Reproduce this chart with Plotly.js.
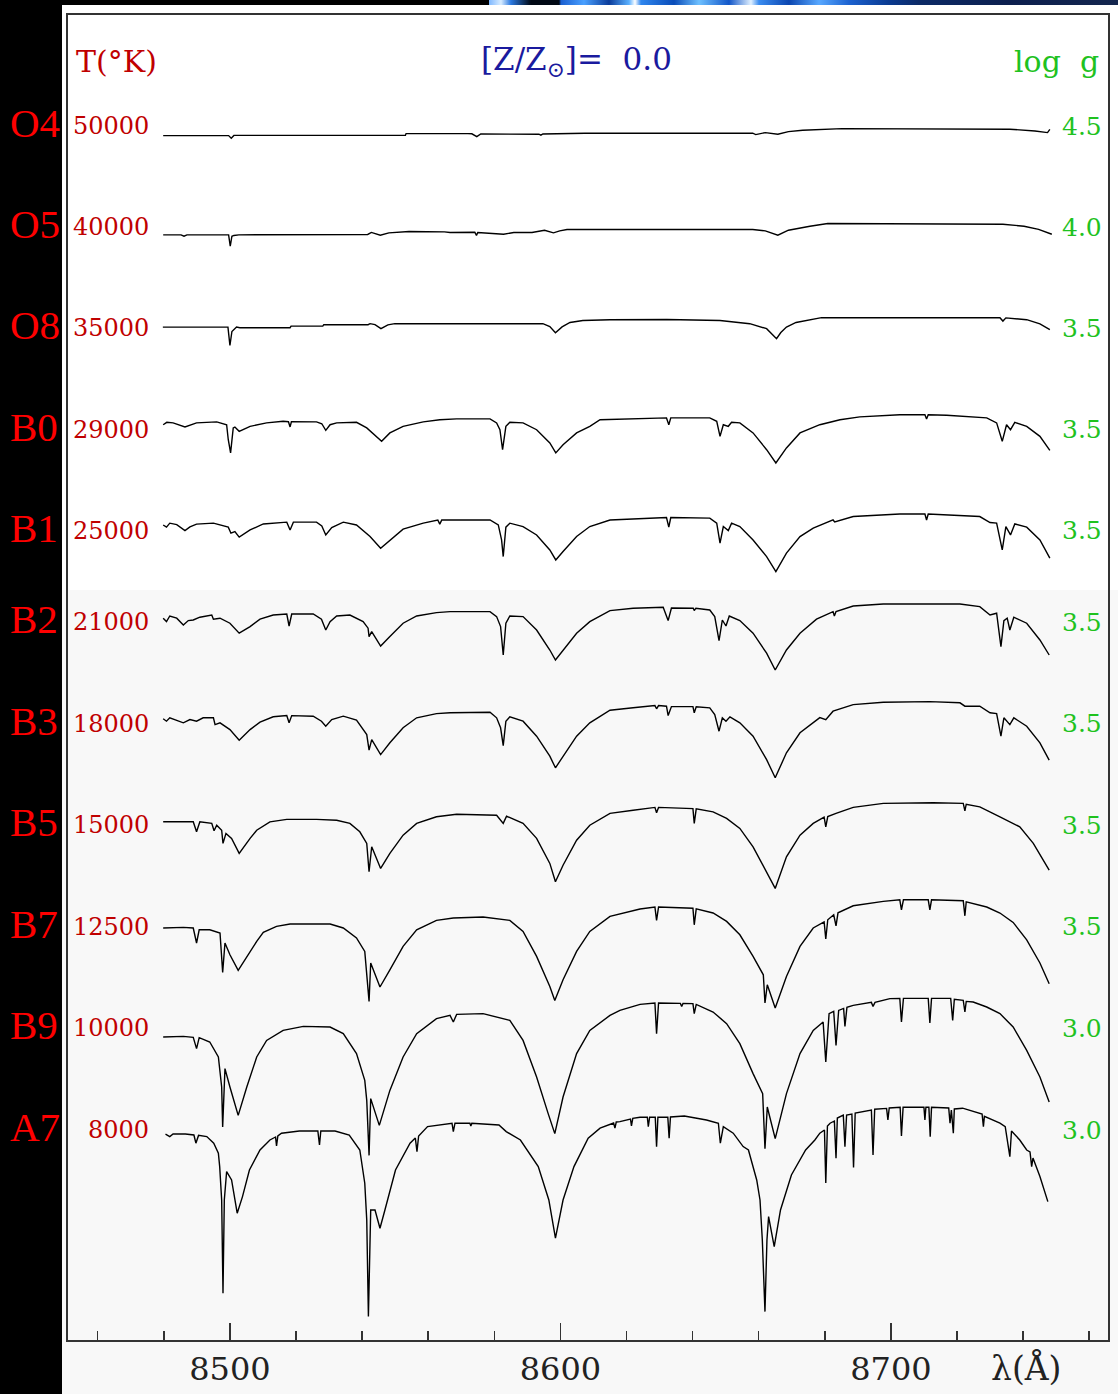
<!DOCTYPE html>
<html>
<head>
<meta charset="utf-8">
<script src="https://cdn.plot.ly/plotly-3.0.1.min.js"></script>
<style>
  html, body { margin: 0; padding: 0; background: #000; }
  #wrap { position: relative; width: 1118px; height: 1394px; overflow: hidden; background: #000; }
  #sheet { position: absolute; left: 62px; top: 5px; width: 1056px; height: 1389px;
           background: linear-gradient(to bottom, #ffffff 0px, #ffffff 585px, #f8f8f8 585px, #f8f8f8 100%); }
  #strip { position: absolute; left: 489px; top: 0; width: 629px; height: 5px;
           background: linear-gradient(to right,
             #7fb8ff 0px, #d8ecff 12px, #2a78e0 22px, #000814 42px, #000814 70px,
             #1a5fd0 72px, #4aa0ff 95px, #0b3c9a 120px, #5ab0ff 140px, #ffffff 146px, #2f86ee 152px,
             #0a4cb8 185px, #6ec0ff 210px, #1256c8 240px, #e0f0ff 262px, #3a8cf0 270px,
             #0b46b0 300px, #58a8ff 330px, #1c62d0 360px, #0a3a90 400px, #0c2a66 430px,
             #0c1f4e 520px, #14264e 629px); }
  #chart { position: absolute; left: 0; top: 0; width: 1118px; height: 1394px; }
</style>
</head>
<body>
<div id="wrap">
  <div id="sheet"></div>
  <div id="strip"></div>
  <div id="chart"></div>
</div>
<script>
// Spectral types, effective temperatures and surface gravities, top to bottom
const SPECTRAL_TYPES = ['O4', 'O5', 'O8', 'B0', 'B1', 'B2', 'B3', 'B5', 'B7', 'B9', 'A7'];
const TEFF_LABELS = ['50000', '40000', '35000', '29000', '25000', '21000', '18000', '15000', '12500', '10000', '8000'];
const LOGG_LABELS = ['4.5', '4.0', '3.5', '3.5', '3.5', '3.5', '3.5', '3.5', '3.5', '3.0', '3.0'];
const X_TICK_LABELS = ['8500', '8600', '8700'];

// Normalised synthetic spectra, [wavelength (Å), relative flux]
const SPEC_O4 = [[8479.8,0.952],[8499.6,0.952],[8500.4,0.939],[8501.2,0.953],[8553.1,0.954],[8553.3,0.962],[8572.0,0.962],[8573.2,0.961],[8574.7,0.947],[8575.9,0.960],[8593.5,0.959],[8594.1,0.954],[8594.7,0.960],[8599.8,0.963],[8607.4,0.964],[8658.2,0.964],[8659.1,0.957],[8662.0,0.967],[8663.4,0.963],[8665.8,0.959],[8669.0,0.972],[8673.3,0.979],[8685.2,0.987],[8736.0,0.984],[8743.6,0.975],[8747.4,0.967],[8748.1,0.983]];

const SPEC_O5 = [[8479.8,0.962],[8485.2,0.962],[8486.1,0.955],[8487.0,0.962],[8499.6,0.962],[8500.1,0.905],[8500.6,0.955],[8501.2,0.959],[8502.7,0.962],[8541.7,0.964],[8542.8,0.974],[8545.5,0.960],[8548.1,0.972],[8554.2,0.979],[8564.9,0.977],[8566.6,0.974],[8574.1,0.975],[8574.6,0.959],[8575.0,0.974],[8582.8,0.965],[8585.9,0.974],[8591.4,0.974],[8595.2,0.985],[8597.9,0.972],[8599.8,0.982],[8602.0,0.989],[8658.2,0.989],[8662.0,0.982],[8665.8,0.960],[8669.0,0.985],[8675.5,1.005],[8680.9,1.019],[8733.9,1.015],[8740.3,1.005],[8744.7,0.989],[8748.7,0.965]];

const SPEC_O8 = [[8479.7,1.007],[8499.4,1.007],[8500.0,0.915],[8500.6,0.985],[8502.0,1.007],[8503.0,1.004],[8518.2,1.004],[8518.5,1.012],[8528.1,1.012],[8528.4,1.019],[8541.8,1.019],[8542.4,1.024],[8543.9,1.019],[8545.7,0.999],[8547.8,1.018],[8549.9,1.024],[8594.7,1.024],[8596.8,1.010],[8598.5,0.979],[8600.5,1.008],[8602.9,1.030],[8606.8,1.040],[8615.0,1.044],[8632.2,1.045],[8648.3,1.040],[8657.3,1.024],[8662.4,0.999],[8664.0,0.975],[8665.4,0.949],[8666.7,0.980],[8668.4,1.007],[8671.3,1.030],[8674.5,1.040],[8679.0,1.054],[8733.0,1.054],[8733.9,1.037],[8734.8,1.053],[8741.1,1.044],[8745.1,1.023],[8748.1,0.994]];

const SPEC_B0 = [[8479.8,1.025],[8480.9,1.037],[8482.8,1.034],[8486.4,1.014],[8489.9,1.034],[8496.0,1.039],[8499.0,1.025],[8499.5,0.950],[8500.2,0.884],[8500.6,0.950],[8501.0,1.009],[8501.5,1.013],[8502.8,0.992],[8506.1,1.017],[8511.1,1.034],[8516.1,1.042],[8517.7,1.040],[8518.2,1.014],[8518.6,1.040],[8526.2,1.039],[8527.8,1.030],[8529.0,0.997],[8530.3,1.025],[8532.3,1.034],[8538.3,1.037],[8541.4,1.009],[8543.6,0.975],[8545.9,0.942],[8548.4,0.984],[8552.4,1.017],[8558.5,1.039],[8563.5,1.050],[8568.6,1.054],[8578.7,1.054],[8580.7,1.034],[8581.7,1.000],[8582.5,0.900],[8583.5,1.017],[8584.7,1.037],[8588.7,1.034],[8592.8,1.000],[8596.8,0.934],[8598.6,0.884],[8600.8,0.925],[8604.9,0.984],[8608.9,1.017],[8612.0,1.050],[8632.1,1.059],[8632.8,1.025],[8633.4,1.059],[8645.2,1.059],[8647.3,1.042],[8648.3,0.967],[8649.3,1.025],[8650.8,1.017],[8651.8,1.037],[8654.3,1.034],[8658.3,0.984],[8662.4,0.900],[8665.2,0.834],[8668.4,0.909],[8672.5,0.984],[8678.5,1.025],[8684.6,1.050],[8690.6,1.064],[8702.7,1.075],[8710.3,1.075],[8710.8,1.054],[8711.3,1.075],[8716.9,1.072],[8729.0,1.059],[8732.0,1.034],[8733.7,0.942],[8735.0,1.025],[8736.2,1.000],[8737.5,1.037],[8741.1,1.017],[8745.1,0.967],[8748.1,0.897]];

const SPEC_B1 = [[8479.8,1.030],[8480.8,1.019],[8481.8,1.039],[8483.9,1.032],[8486.4,1.002],[8487.9,1.020],[8489.9,1.034],[8495.0,1.039],[8499.5,1.019],[8500.3,0.989],[8501.5,0.997],[8502.8,0.969],[8506.1,1.005],[8510.1,1.035],[8517.2,1.044],[8518.2,1.005],[8519.2,1.044],[8526.2,1.044],[8527.8,1.025],[8529.0,0.980],[8530.8,1.017],[8534.3,1.044],[8538.3,1.030],[8542.4,0.972],[8545.6,0.914],[8548.4,0.955],[8552.4,1.009],[8558.5,1.039],[8562.9,1.055],[8563.5,1.034],[8564.1,1.055],[8578.7,1.055],[8581.2,1.030],[8582.2,0.955],[8582.7,0.872],[8583.5,1.019],[8584.7,1.039],[8588.7,1.022],[8592.8,0.980],[8596.8,0.905],[8598.6,0.855],[8600.8,0.897],[8604.9,0.972],[8608.9,1.022],[8615.0,1.055],[8632.1,1.067],[8632.8,1.019],[8633.4,1.067],[8645.2,1.064],[8647.3,1.039],[8648.3,0.939],[8649.3,1.022],[8650.8,1.002],[8651.8,1.039],[8654.3,1.022],[8658.3,0.955],[8662.4,0.872],[8665.2,0.797],[8668.4,0.889],[8672.5,0.972],[8676.5,1.014],[8682.5,1.055],[8683.0,1.045],[8688.6,1.072],[8702.7,1.085],[8710.3,1.085],[8710.8,1.055],[8711.3,1.085],[8716.9,1.080],[8726.9,1.072],[8730.0,1.042],[8732.0,1.039],[8733.7,0.905],[8734.8,1.022],[8736.2,0.980],[8737.5,1.035],[8741.1,1.019],[8745.1,0.955],[8748.1,0.864]];

const SPEC_B2 = [[8479.8,1.019],[8480.8,1.002],[8481.8,1.030],[8483.9,1.019],[8485.9,0.985],[8487.4,1.007],[8488.9,1.010],[8490.9,1.024],[8494.5,1.035],[8495.0,1.014],[8497.0,1.019],[8500.0,0.994],[8502.8,0.944],[8506.1,0.977],[8509.1,1.014],[8513.1,1.035],[8517.2,1.040],[8517.9,0.980],[8518.7,1.040],[8525.2,1.040],[8527.7,1.014],[8529.0,0.960],[8530.3,1.002],[8532.3,1.030],[8536.3,1.035],[8540.3,1.002],[8541.8,0.969],[8542.1,0.927],[8542.9,0.952],[8545.6,0.880],[8548.4,0.927],[8552.4,0.994],[8556.5,1.030],[8562.5,1.047],[8566.6,1.052],[8578.7,1.052],[8580.7,1.027],[8581.9,0.977],[8582.7,0.835],[8583.5,0.994],[8584.7,1.030],[8588.7,1.027],[8592.8,0.960],[8596.8,0.860],[8598.5,0.810],[8600.8,0.860],[8604.9,0.944],[8608.9,1.002],[8615.0,1.057],[8622.0,1.069],[8631.1,1.074],[8632.6,1.007],[8633.6,1.070],[8640.2,1.069],[8640.5,1.057],[8641.0,1.069],[8645.2,1.060],[8646.7,1.027],[8648.0,0.907],[8649.0,1.010],[8650.1,0.980],[8651.1,1.030],[8654.3,1.007],[8658.3,0.944],[8662.4,0.844],[8665.0,0.760],[8668.4,0.860],[8672.5,0.944],[8677.5,1.014],[8682.5,1.052],[8682.9,1.030],[8683.4,1.052],[8688.6,1.080],[8697.7,1.090],[8720.9,1.090],[8726.9,1.077],[8730.0,1.035],[8732.0,1.044],[8733.3,0.877],[8734.2,1.007],[8735.2,1.019],[8736.0,0.960],[8737.2,1.024],[8741.1,0.994],[8745.1,0.910],[8747.9,0.835]];

const SPEC_B3 = [[8479.8,1.024],[8480.8,1.012],[8481.8,1.029],[8485.9,1.004],[8487.9,1.020],[8489.9,1.012],[8491.9,1.029],[8495.0,1.029],[8495.5,0.995],[8497.0,1.004],[8500.0,0.970],[8502.8,0.917],[8506.1,0.970],[8509.1,1.007],[8513.1,1.034],[8517.2,1.040],[8517.9,1.004],[8518.7,1.040],[8525.2,1.037],[8527.7,1.012],[8529.0,0.987],[8530.8,1.020],[8534.3,1.037],[8538.3,1.017],[8541.4,0.945],[8542.1,0.867],[8542.9,0.920],[8545.6,0.845],[8548.4,0.904],[8552.4,0.979],[8556.5,1.029],[8562.5,1.050],[8566.6,1.054],[8578.7,1.057],[8580.7,1.029],[8581.9,0.979],[8582.7,0.890],[8583.5,1.012],[8584.7,1.034],[8588.7,1.012],[8592.8,0.937],[8596.8,0.837],[8598.5,0.779],[8600.8,0.837],[8604.9,0.937],[8608.9,1.004],[8615.0,1.067],[8622.0,1.079],[8628.6,1.090],[8629.1,1.074],[8629.7,1.090],[8632.1,1.087],[8632.6,1.040],[8633.6,1.085],[8640.1,1.085],[8640.5,1.054],[8641.1,1.084],[8645.2,1.079],[8646.7,1.045],[8648.0,0.962],[8649.0,1.029],[8650.1,1.012],[8651.3,1.034],[8654.3,1.004],[8658.3,0.937],[8662.4,0.820],[8665.0,0.729],[8668.4,0.854],[8672.5,0.954],[8678.5,1.030],[8680.3,1.020],[8682.5,1.062],[8688.6,1.095],[8697.7,1.107],[8711.8,1.110],[8720.9,1.104],[8722.4,1.087],[8726.9,1.087],[8730.0,1.054],[8732.0,1.050],[8733.3,0.937],[8734.2,1.029],[8736.0,0.995],[8737.2,1.029],[8741.1,0.987],[8745.1,0.904],[8747.9,0.817]];

const SPEC_B5 = [[8479.8,1.017],[8488.9,1.017],[8489.9,0.967],[8490.9,1.017],[8494.5,1.009],[8495.2,0.972],[8496.0,1.000],[8497.5,0.975],[8497.9,0.909],[8498.8,0.959],[8500.5,0.934],[8502.8,0.859],[8506.1,0.934],[8508.1,0.975],[8512.1,1.017],[8517.2,1.029],[8526.2,1.029],[8532.3,1.025],[8536.3,1.009],[8539.3,0.967],[8541.4,0.909],[8542.1,0.767],[8542.9,0.892],[8545.6,0.784],[8548.4,0.859],[8552.4,0.950],[8556.5,1.009],[8562.5,1.042],[8568.6,1.055],[8580.7,1.050],[8582.7,1.009],[8583.7,1.045],[8588.7,1.009],[8592.8,0.934],[8596.8,0.809],[8598.5,0.717],[8600.8,0.800],[8604.9,0.925],[8608.9,1.000],[8615.0,1.059],[8622.0,1.075],[8628.6,1.089],[8629.1,1.062],[8629.7,1.089],[8640.1,1.083],[8640.5,1.009],[8641.1,1.082],[8646.2,1.067],[8650.3,1.034],[8654.3,0.984],[8658.3,0.892],[8662.4,0.767],[8665.0,0.684],[8668.4,0.842],[8672.5,0.950],[8676.5,1.009],[8679.8,1.040],[8680.3,0.992],[8680.9,1.043],[8683.4,1.059],[8688.6,1.089],[8697.7,1.109],[8712.8,1.112],[8721.9,1.109],[8722.4,1.072],[8722.8,1.105],[8726.9,1.092],[8733.0,1.042],[8739.0,0.992],[8743.1,0.909],[8747.9,0.775]];

const SPEC_B7 = [[8479.8,0.994],[8485.9,0.997],[8488.9,0.994],[8489.9,0.919],[8490.7,0.985],[8493.9,0.985],[8497.0,0.969],[8497.8,0.772],[8498.5,0.919],[8500.0,0.860],[8502.5,0.782],[8505.1,0.852],[8508.1,0.927],[8510.1,0.972],[8514.1,1.002],[8518.2,1.014],[8530.3,1.014],[8534.3,0.994],[8538.3,0.944],[8540.8,0.877],[8542.1,0.627],[8542.6,0.819],[8545.4,0.699],[8548.4,0.785],[8552.4,0.902],[8556.5,0.985],[8562.5,1.032],[8567.6,1.044],[8576.6,1.049],[8584.7,1.032],[8588.7,0.977],[8592.8,0.852],[8596.8,0.702],[8598.3,0.632],[8600.8,0.735],[8604.9,0.877],[8608.9,0.977],[8615.0,1.052],[8624.1,1.089],[8628.6,1.099],[8629.1,1.032],[8629.7,1.099],[8640.1,1.093],[8640.5,1.010],[8641.1,1.090],[8646.2,1.069],[8650.3,1.027],[8654.3,0.960],[8658.3,0.852],[8661.4,0.760],[8661.9,0.619],[8662.6,0.710],[8665.0,0.594],[8668.4,0.752],[8672.5,0.902],[8676.5,0.994],[8679.8,1.025],[8680.3,0.939],[8680.9,1.035],[8682.7,1.060],[8683.4,1.005],[8684.0,1.070],[8688.6,1.105],[8697.7,1.127],[8702.7,1.135],[8703.2,1.085],[8703.8,1.135],[8711.3,1.135],[8711.8,1.085],[8712.3,1.135],[8721.9,1.130],[8722.4,1.055],[8722.8,1.125],[8729.0,1.099],[8733.0,1.069],[8737.0,1.022],[8741.1,0.935],[8745.1,0.819],[8747.9,0.715]];

const SPEC_B9 = [[8479.8,0.957],[8485.9,0.960],[8488.9,0.955],[8489.9,0.899],[8490.7,0.954],[8493.9,0.932],[8496.5,0.857],[8497.5,0.707],[8497.8,0.507],[8498.5,0.799],[8500.0,0.707],[8502.5,0.565],[8505.1,0.707],[8508.1,0.857],[8511.1,0.940],[8516.1,0.990],[8522.2,1.010],[8530.3,1.007],[8534.3,0.974],[8538.3,0.874],[8540.8,0.740],[8541.4,0.640],[8542.1,0.365],[8542.6,0.649],[8545.2,0.515],[8548.4,0.690],[8552.4,0.857],[8556.5,0.974],[8562.5,1.049],[8566.6,1.065],[8567.6,1.032],[8568.6,1.070],[8576.6,1.074],[8584.7,1.040],[8588.7,0.940],[8592.8,0.757],[8596.3,0.574],[8598.3,0.474],[8600.8,0.657],[8604.9,0.874],[8608.9,0.990],[8615.0,1.065],[8618.0,1.090],[8624.1,1.120],[8628.6,1.127],[8629.1,0.974],[8629.7,1.127],[8636.3,1.125],[8636.7,1.109],[8637.1,1.125],[8640.1,1.124],[8640.5,1.074],[8641.1,1.120],[8646.2,1.082],[8650.3,1.024],[8654.3,0.924],[8658.3,0.774],[8661.2,0.674],[8661.9,0.399],[8662.6,0.607],[8665.0,0.449],[8668.4,0.674],[8672.5,0.874],[8676.5,0.990],[8679.5,1.032],[8680.3,0.832],[8681.3,1.074],[8682.7,1.085],[8683.4,0.915],[8684.2,1.090],[8685.7,1.100],[8686.1,1.010],[8686.7,1.105],[8688.6,1.115],[8694.1,1.130],[8694.6,1.110],[8695.2,1.130],[8699.7,1.149],[8702.7,1.150],[8703.2,1.032],[8703.8,1.150],[8711.3,1.150],[8711.8,1.027],[8712.3,1.150],[8718.1,1.150],[8718.7,1.040],[8719.2,1.145],[8721.9,1.140],[8722.4,1.082],[8722.8,1.135],[8724.9,1.132],[8729.0,1.107],[8733.0,1.074],[8737.0,1.007],[8741.1,0.890],[8745.1,0.757],[8747.9,0.632]];

const SPEC_A7 = [[8480.5,0.979],[8481.8,0.967],[8482.8,0.980],[8486.5,0.980],[8489.1,0.975],[8489.7,0.934],[8490.5,0.973],[8493.0,0.967],[8495.1,0.934],[8496.5,0.884],[8496.9,0.817],[8497.5,0.650],[8497.9,0.184],[8498.3,0.650],[8499.0,0.792],[8500.5,0.750],[8502.2,0.584],[8503.8,0.667],[8505.9,0.800],[8509.1,0.900],[8512.1,0.950],[8513.8,0.965],[8514.1,0.920],[8514.5,0.970],[8515.6,0.984],[8521.0,0.995],[8526.6,0.995],[8527.1,0.925],[8527.5,0.995],[8531.8,0.995],[8536.1,0.975],[8539.3,0.900],[8540.8,0.734],[8541.4,0.550],[8541.9,0.067],[8542.4,0.550],[8542.6,0.600],[8543.9,0.600],[8545.4,0.509],[8546.9,0.600],[8550.1,0.800],[8554.5,0.934],[8556.1,0.960],[8556.6,0.892],[8557.1,0.970],[8559.8,1.017],[8567.2,1.034],[8567.6,0.992],[8568.1,1.034],[8572.6,1.034],[8572.9,1.020],[8573.2,1.034],[8581.4,1.025],[8583.6,0.992],[8587.9,0.950],[8593.3,0.817],[8596.5,0.650],[8598.5,0.459],[8600.8,0.650],[8604.1,0.817],[8608.4,0.959],[8612.0,1.009],[8616.1,1.035],[8616.5,1.009],[8616.9,1.040],[8618.0,1.042],[8621.2,1.055],[8621.5,1.020],[8621.9,1.058],[8624.1,1.064],[8626.3,1.064],[8626.6,1.017],[8627.0,1.064],[8628.7,1.064],[8629.1,0.917],[8629.5,1.064],[8632.5,1.064],[8632.9,0.959],[8633.3,1.065],[8637.5,1.070],[8644.2,1.050],[8647.8,1.034],[8648.4,0.934],[8649.3,1.017],[8652.3,0.984],[8655.3,0.917],[8656.9,0.900],[8659.4,0.750],[8660.4,0.650],[8661.1,0.450],[8661.9,0.092],[8662.5,0.450],[8663.0,0.567],[8664.7,0.417],[8666.6,0.600],[8669.9,0.775],[8674.2,0.900],[8677.0,0.950],[8678.5,0.984],[8679.9,1.000],[8680.3,0.735],[8680.8,1.020],[8681.6,1.034],[8682.9,1.045],[8683.4,0.859],[8683.8,1.060],[8685.6,1.075],[8686.1,0.917],[8686.6,1.075],[8688.2,1.080],[8688.7,0.813],[8689.2,1.085],[8691.4,1.092],[8694.1,1.100],[8694.6,0.875],[8695.1,1.104],[8698.7,1.108],[8699.1,1.050],[8699.5,1.110],[8702.8,1.114],[8703.2,0.970],[8703.7,1.114],[8710.0,1.114],[8710.3,1.050],[8710.6,1.114],[8711.5,1.114],[8711.9,0.967],[8712.3,1.114],[8717.5,1.110],[8717.9,1.034],[8718.3,1.100],[8718.9,0.984],[8719.2,1.105],[8721.7,1.109],[8727.6,1.080],[8728.0,1.017],[8728.3,1.068],[8733.0,1.034],[8734.6,1.017],[8736.0,0.867],[8736.5,0.995],[8739.0,0.950],[8741.1,0.900],[8742.1,0.890],[8742.6,0.817],[8743.0,0.860],[8745.1,0.767],[8747.5,0.642]];

const SPECTRA = [SPEC_O4, SPEC_O5, SPEC_O8, SPEC_B0, SPEC_B1, SPEC_B2, SPEC_B3, SPEC_B5, SPEC_B7, SPEC_B9, SPEC_A7];

// ---- figure geometry ----
const FIG = { w: 1118, h: 1394, l: 68, r: 10, t: 15, b: 54 };
const PLOT_W = FIG.w - FIG.l - FIG.r;
const PLOT_H = FIG.h - FIG.t - FIG.b;
const Y_PER_PX = 1 / 200;                 // one flux unit spans 200 px
const Y_MAX = PLOT_H * Y_PER_PX;
const paperX = px => (px - FIG.l) / PLOT_W;
const paperY = py => (FIG.h - FIG.b - py) / PLOT_H;

// Vertical offset of each spectrum: two stacked panels of evenly spaced rows
function rowLevel(i) {
  return i < 5 ? 6.07 - 0.5062 * i : 3.59 - 0.508 * (i - 5);
}

const SERIF = 'DejaVu Serif, Liberation Serif, serif';
const TIMES = 'Liberation Serif, Times New Roman, serif';
const RED = '#ff0000', DARKRED = '#c00000', GREEN = '#1fc21f', BLUE = '#1a1a9e';

const traces = SPECTRA.map((spec, i) => ({
  type: 'scatter',
  mode: 'lines',
  name: SPECTRAL_TYPES[i],
  x: spec.map(p => p[0]),
  y: spec.map(p => rowLevel(i) + (p[1] - 1)),
  line: { color: '#000', width: 1.4 },
  hoverinfo: 'skip',
  showlegend: false
}));

const annotations = [];
SPECTRAL_TYPES.forEach((st, i) => {
  annotations.push({ text: st, xref: 'paper', yref: 'y', x: paperX(8), y: rowLevel(i),
    xanchor: 'left', yanchor: 'middle', yshift: 3, showarrow: false,
    font: { family: TIMES, size: 41, color: RED } });
  annotations.push({ text: TEFF_LABELS[i], xref: 'paper', yref: 'y', x: paperX(151), y: rowLevel(i),
    xanchor: 'right', yanchor: 'middle', showarrow: false,
    font: { family: SERIF, size: 24, color: DARKRED } });
  annotations.push({ text: LOGG_LABELS[i], xref: 'paper', yref: 'y', x: paperX(1104), y: rowLevel(i),
    xanchor: 'right', yanchor: 'middle', showarrow: false,
    font: { family: SERIF, size: 25, color: GREEN } });
});
annotations.push({ text: 'T(°K)', xref: 'paper', yref: 'paper', x: paperX(74), y: paperY(62),
  xanchor: 'left', yanchor: 'middle', showarrow: false, font: { family: SERIF, size: 30, color: DARKRED } });
annotations.push({ text: '[Z/Z<sub>⊙</sub>]=\u00a0 0.0', xref: 'paper', yref: 'paper', x: paperX(479), y: paperY(62),
  xanchor: 'left', yanchor: 'middle', showarrow: false, font: { family: SERIF, size: 31, color: BLUE } });
annotations.push({ text: 'log\u00a0\u00a0g', xref: 'paper', yref: 'paper', x: paperX(1101), y: paperY(62),
  xanchor: 'right', yanchor: 'middle', showarrow: false, font: { family: SERIF, size: 30, color: GREEN } });
annotations.push({ text: 'λ(Å)', xref: 'paper', yref: 'paper', x: paperX(1026), y: paperY(1368),
  xanchor: 'center', yanchor: 'middle', showarrow: false, font: { family: SERIF, size: 33, color: '#222' } });

const layout = {
  width: FIG.w, height: FIG.h,
  margin: { l: FIG.l, r: FIG.r, t: FIG.t, b: FIG.b, pad: 0 },
  paper_bgcolor: 'rgba(0,0,0,0)',
  plot_bgcolor: 'rgba(0,0,0,0)',
  showlegend: false,
  xaxis: {
    range: [8451, 8765.7],
    tickmode: 'array',
    tickvals: X_TICK_LABELS.map(Number),
    ticktext: X_TICK_LABELS,
    ticks: 'inside', ticklen: 17, tickwidth: 1.5, tickcolor: '#333',
    minor: { tickmode: 'linear', tick0: 8460, dtick: 20, ticks: 'inside', ticklen: 9, tickwidth: 1.5, tickcolor: '#333', showgrid: false },
    tickfont: { family: SERIF, size: 32, color: '#222' },
    ticklabelstandoff: 0,
    showline: true, linecolor: '#333', linewidth: 2, mirror: true,
    showgrid: false, zeroline: false, fixedrange: true
  },
  yaxis: {
    range: [0, Y_MAX],
    showticklabels: false, ticks: '',
    showline: true, linecolor: '#333', linewidth: 2, mirror: true,
    showgrid: false, zeroline: false, fixedrange: true
  },
  annotations: annotations
};

Plotly.newPlot('chart', traces, layout, { staticPlot: true, displayModeBar: false });
</script>
</body>
</html>
